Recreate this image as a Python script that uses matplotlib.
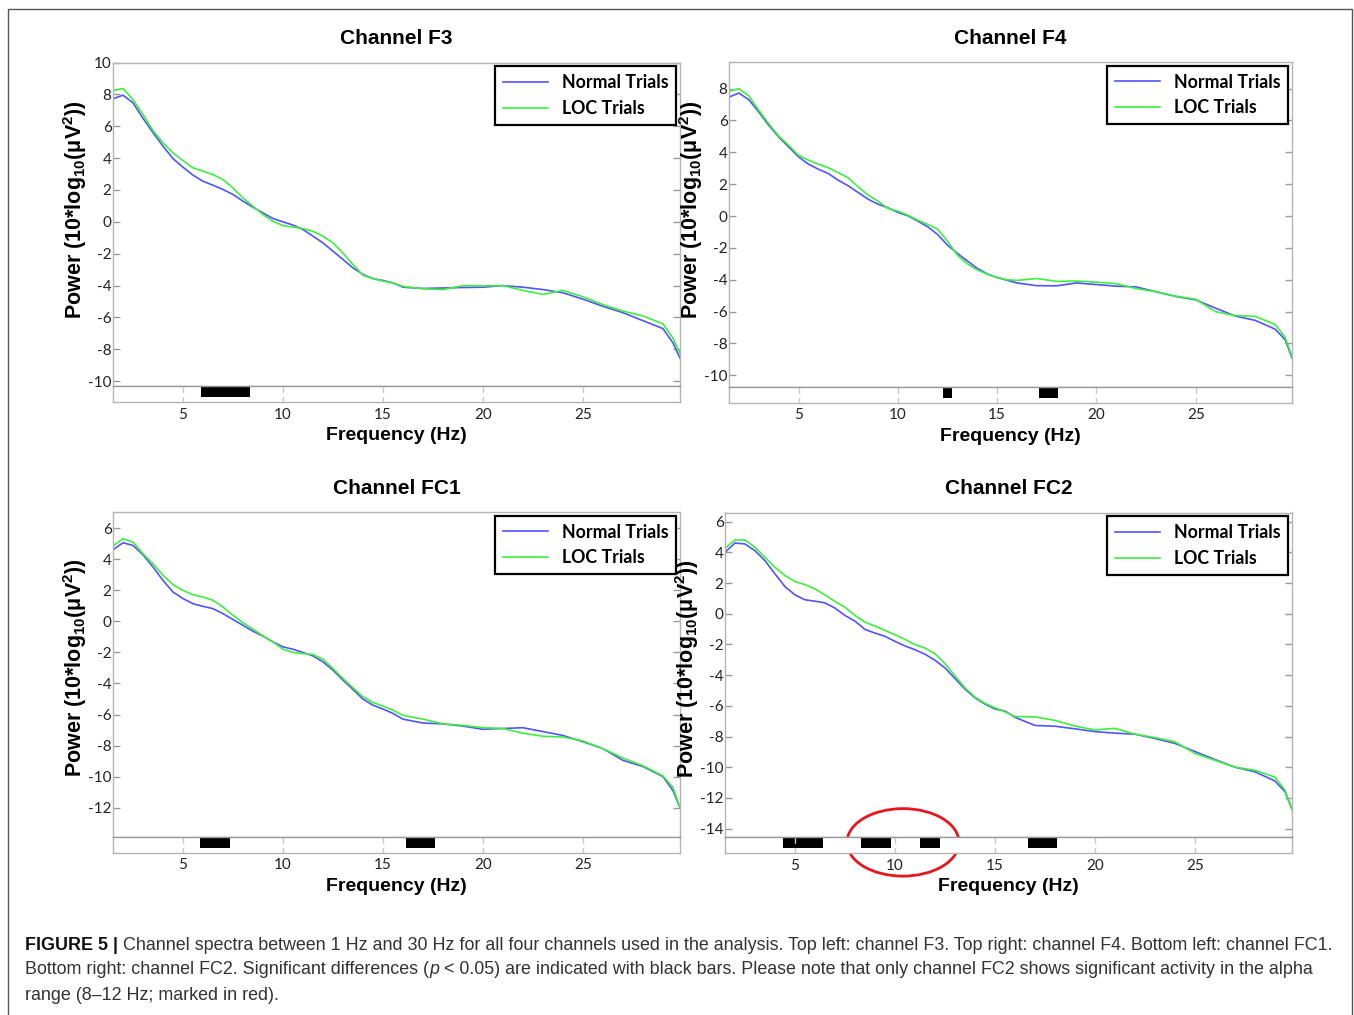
import matplotlib
matplotlib.use("Agg")
import matplotlib.pyplot as plt
from matplotlib.patches import Ellipse, Rectangle

plt.rcParams['font.family'] = ['Liberation Sans', 'DejaVu Sans']
plt.rcParams['mathtext.fontset'] = 'custom'
plt.rcParams['mathtext.rm'] = 'Liberation Sans:bold'
plt.rcParams['mathtext.bf'] = 'Liberation Sans:bold'
plt.rcParams['mathtext.default'] = 'bf'
plt.rcParams['axes.unicode_minus'] = False

# frequency grid (Hz)
freq = [1.5, 2.0, 2.5, 3.0, 3.5, 4.0, 4.5, 5.0, 5.5, 6.0, 6.5, 7.0, 7.5, 8.0, 8.5,
        9.0, 9.5, 10.0, 10.5, 11.0, 11.5, 12.0, 12.5, 13.0, 13.5, 14.0, 14.5, 15.0, 15.5,
        16, 17, 18, 19, 20, 21, 22, 23, 24, 25, 26, 27, 28, 29, 29.5, 29.85]

# power spectra, 10*log10(uV^2)
f3_normal = [7.72, 7.95, 7.47, 6.5, 5.6, 4.75, 3.97, 3.43, 2.93, 2.55, 2.3, 2.03, 1.72, 1.3, 0.92,
             0.56, 0.21, 0.0, -0.2, -0.48, -0.9, -1.32, -1.84, -2.36, -2.89, -3.3, -3.56, -3.68, -3.83,
             -4.1, -4.18, -4.15, -4.12, -4.1, -4.0, -4.1, -4.25, -4.45, -4.85, -5.3, -5.7, -6.2, -6.7, -7.6, -8.55]
f3_loc = [8.24, 8.37, 7.68, 6.74, 5.73, 4.96, 4.33, 3.85, 3.39, 3.18, 2.97, 2.66, 2.13, 1.5, 0.98,
          0.46, 0.04, -0.23, -0.33, -0.42, -0.59, -0.9, -1.32, -1.95, -2.68, -3.35, -3.56, -3.72, -3.83,
          -4.05, -4.2, -4.25, -4.0, -4.02, -4.0, -4.3, -4.55, -4.3, -4.7, -5.2, -5.6, -5.9, -6.4, -7.3, -8.25]

f4_normal = [7.47, 7.72, 7.3, 6.53, 5.7, 4.97, 4.34, 3.72, 3.26, 2.94, 2.67, 2.25, 1.9, 1.48, 1.06,
             0.75, 0.52, 0.23, 0.02, -0.31, -0.67, -1.15, -1.82, -2.34, -2.82, -3.28, -3.63, -3.86, -4.03,
             -4.2, -4.37, -4.38, -4.2, -4.3, -4.4, -4.45, -4.75, -5.05, -5.26, -5.78, -6.28, -6.55, -7.1, -7.75, -8.9]
f4_loc = [7.83, 8.0, 7.54, 6.64, 5.8, 5.03, 4.45, 3.82, 3.51, 3.26, 3.03, 2.73, 2.4, 1.84, 1.32,
          0.94, 0.48, 0.31, 0.06, -0.25, -0.52, -0.81, -1.57, -2.45, -3.0, -3.38, -3.65, -3.86, -4.0,
          -4.04, -3.92, -4.1, -4.08, -4.15, -4.24, -4.55, -4.75, -5.03, -5.22, -6.0, -6.25, -6.3, -6.8, -7.6, -8.8]

fc1_normal = [4.6, 5.05, 4.88, 4.28, 3.49, 2.63, 1.88, 1.46, 1.13, 0.96, 0.81, 0.49, 0.11, -0.26, -0.64,
              -0.96, -1.33, -1.65, -1.8, -2.01, -2.23, -2.61, -3.15, -3.79, -4.39, -5.01, -5.4, -5.65, -5.93,
              -6.3, -6.55, -6.6, -6.75, -6.95, -6.9, -6.85, -7.1, -7.35, -7.75, -8.2, -8.95, -9.35, -10.0, -10.9, -12.0]
fc1_loc = [4.84, 5.31, 5.1, 4.35, 3.7, 2.96, 2.36, 1.99, 1.71, 1.56, 1.35, 0.92, 0.39, -0.09, -0.51,
           -0.94, -1.33, -1.8, -2.01, -2.08, -2.14, -2.44, -3.04, -3.68, -4.28, -4.86, -5.22, -5.46, -5.72,
           -6.05, -6.3, -6.6, -6.7, -6.85, -6.9, -7.2, -7.4, -7.45, -7.7, -8.2, -8.8, -9.3, -9.95, -10.7, -12.0]

fc2_normal = [4.0, 4.61, 4.55, 4.11, 3.46, 2.6, 1.77, 1.23, 0.91, 0.82, 0.71, 0.37, -0.11, -0.48, -1.02,
              -1.26, -1.47, -1.8, -2.1, -2.34, -2.64, -3.03, -3.53, -4.22, -4.91, -5.48, -5.89, -6.21, -6.34,
              -6.75, -7.28, -7.33, -7.5, -7.68, -7.78, -7.85, -8.13, -8.45, -8.98, -9.5, -10.0, -10.3, -10.9, -11.6, -12.75]
fc2_loc = [4.26, 4.81, 4.81, 4.33, 3.68, 3.03, 2.49, 2.1, 1.9, 1.62, 1.23, 0.8, 0.43, -0.11, -0.54,
           -0.8, -1.08, -1.36, -1.67, -2.01, -2.23, -2.6, -3.25, -4.05, -4.83, -5.43, -5.84, -6.13, -6.39,
           -6.7, -6.72, -6.95, -7.32, -7.57, -7.47, -7.85, -8.07, -8.35, -9.1, -9.55, -10.0, -10.2, -10.65, -11.5, -12.75]

# significant differences (start Hz, end Hz)
f3_sig = [(5.9, 8.35)]
f4_sig = [(12.3, 12.75), (17.1, 18.05)]
fc1_sig = [(5.85, 7.35), (16.15, 17.6)]
fc2_sig = [(4.4, 6.4), (8.3, 9.8), (11.25, 12.25), (16.65, 18.1)]

channels = ["Channel F3", "Channel F4", "Channel FC1", "Channel FC2"]
y_lims = [(-10.3, 10.0), (-10.7, 9.67), (-13.85, 7.03), (-14.55, 6.6)]
y_ticks = [range(-10, 11, 2), range(-10, 9, 2), range(-12, 7, 2), range(-14, 7, 2)]
x_ticks = [5, 10, 15, 20, 25]

# alpha range marker on FC2 (centre Hz, centre dB, width Hz, height dB)
alpha_mark = (10.4, -14.9, 5.6, 4.4)

normals = [f3_normal, f4_normal, fc1_normal, fc2_normal]
locs = [f3_loc, f4_loc, fc1_loc, fc2_loc]
sigs = [f3_sig, f4_sig, fc1_sig, fc2_sig]

W, H = 1354, 1015
fig = plt.figure(figsize=(W / 100, H / 100), dpi=100)

# panel boxes in pixels: left, right, top, separator, bottom
boxes = [(113, 680, 62.5, 386, 402),
         (729, 1292, 62, 386.5, 402.5),
         (113, 680, 512, 836.5, 852.5),
         (725, 1292, 512.5, 837, 853)]
label_y = [0.545, 0.545, 0.52, 0.52]

blue = '#5252ff'
green = '#3cf03c'
frame = '#b4b4b4'

for i in range(4):
    l, r, t, s, b = boxes[i]
    ax = fig.add_axes([l / W, (H - s) / H, (r - l) / W, (s - t) / H])
    sx = fig.add_axes([l / W, (H - b) / H, (r - l) / W, (b - s) / H])

    ax.plot(freq, normals[i], color=blue, lw=1.2, label="Normal Trials")
    ax.plot(freq, locs[i], color=green, lw=1.2, label="LOC Trials")
    ax.set_xlim(1.5, 29.85)
    ax.set_ylim(*y_lims[i])
    ax.set_yticks(list(y_ticks[i]))
    ax.set_xticks([])
    ax.tick_params(axis='y', direction='in', length=5, width=1, color='#999999',
                   left=True, right=True, labelsize=11, labelcolor='#222222', pad=1)
    for lab in ax.get_yticklabels():
        lab.set_fontfamily(['Lato', 'DejaVu Sans'])
    for sp in ax.spines.values():
        sp.set_color(frame)
        sp.set_linewidth(1.0)
    ax.set_title(channels[i], fontsize=15, fontweight='bold', pad=13)
    ax.set_ylabel("Power (10*log$_{10}$(μV$^{2}$))", fontsize=15.5, fontweight='bold')
    ax.yaxis.set_label_coords(-24 / (r - l), label_y[i])

    leg = ax.legend(loc='upper right', fancybox=False, framealpha=1, edgecolor='black',
                    borderaxespad=0.2, handlelength=2.55, handletextpad=0.75, labelspacing=0.5,
                    borderpad=0.45, prop={'family': ['Lato', 'DejaVu Sans'], 'weight': 'bold', 'size': 12.8})
    leg.get_frame().set_linewidth(1.6)

    for a, z in sigs[i]:
        sx.add_patch(Rectangle((a, 0.3), z - a, 0.62, color='black', lw=0))
    sx.set_xlim(1.5, 29.85)
    sx.set_ylim(0, 1)
    sx.set_yticks([])
    sx.set_xticks(x_ticks)
    sx.grid(axis='x', color='#c8c8c8', linestyle=(0, (4, 3)), lw=1)
    sx.tick_params(axis='x', length=0, labelsize=11, labelcolor='#222222', pad=4)
    for lab in sx.get_xticklabels():
        lab.set_fontfamily(['Lato', 'DejaVu Sans'])
    for sp in sx.spines.values():
        sp.set_color(frame)
        sp.set_linewidth(1.0)
    sx.spines['top'].set_color('#999999')
    sx.set_xlabel("Frequency (Hz)", fontsize=14, fontweight='bold', labelpad=4)

    if i == 3:
        cx, cy, ew, eh = alpha_mark
        ax.add_patch(Ellipse((cx, cy), ew, eh, fill=False, edgecolor='#e8161c',
                             lw=2.0, clip_on=False, zorder=10))

# outer frame
fig.patches.append(Rectangle((8 / W, -0.02), (1352 - 8) / W, (H - 9) / H + 0.02,
                             transform=fig.transFigure, fill=False, edgecolor='#555555',
                             lw=1.0, figure=fig))

# caption
renderer = fig.canvas.get_renderer()
cap_lines = [
    [("FIGURE 5 |", 'bold', 'normal', '#111111'),
     (" Channel spectra between 1 Hz and 30 Hz for all four channels used in the analysis. Top left: channel F3. Top right: channel F4. Bottom left: channel FC1.", 'normal', 'normal', '#333333')],
    [("Bottom right: channel FC2. Significant differences (", 'normal', 'normal', '#333333'),
     ("p", 'normal', 'italic', '#333333'),
     (" < 0.05) are indicated with black bars. Please note that only channel FC2 shows significant activity in the alpha", 'normal', 'normal', '#333333')],
    [("range (8–12 Hz; marked in red).", 'normal', 'normal', '#333333')],
]
cap_y = [945, 970, 995]
for parts, yy in zip(cap_lines, cap_y):
    x = 25
    for txt, wt, st, col in parts:
        tt = fig.text(x / W, (H - yy) / H, txt, fontsize=12.9, fontweight=wt, fontstyle=st,
                      color=col, va='center', ha='left')
        bb = tt.get_window_extent(renderer)
        x = bb.x1

fig.savefig("out.png", dpi=100, facecolor='white')
